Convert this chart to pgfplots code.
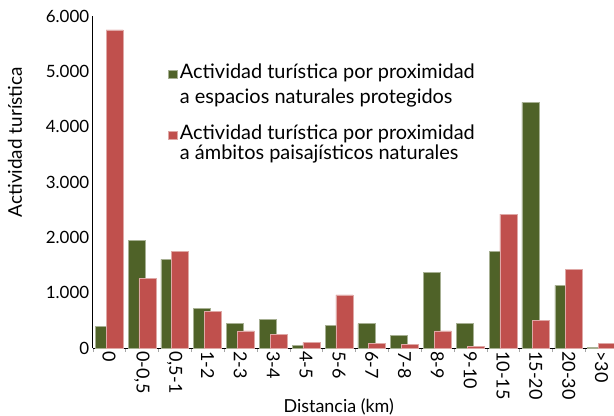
\documentclass[border=0pt]{standalone}
\usepackage{pgfplots}
\pgfplotsset{compat=1.18}
\usepackage{fontspec}
\setmainfont{Lato}
\definecolor{verde}{HTML}{4F6228}
\definecolor{rojo}{HTML}{C0504D}

\begin{document}
\begin{tikzpicture}
\path[use as bounding box] (-92.7bp,-68bp) rectangle (521.3bp,348bp);
\begin{axis}[
  at={(0,0)}, anchor=south west,
  scale only axis, width=521.3bp, height=332bp,
  xmin=-0.5, xmax=15.38, ymin=0, ymax=6000,
  axis lines*=left,
  xtick={0,...,15},
  xticklabels={0,{0-0,5},{0,5-1},1-2,2-3,3-4,4-5,5-6,6-7,7-8,8-9,9-10,10-15,15-20,20-30,>30},
  minor xtick={-0.5,0.5,...,14.5},
  ytick={0,1000,...,6000},
  /pgf/number format/assume math mode=true,
  /pgf/number format/1000 sep={.},
  major tick length=0pt, minor tick length=4bp, tick align=outside,
  minor tick style={gray!70},
  tick label style={font=\fontsize{17}{17}\selectfont},
  xticklabel style={rotate=-90, anchor=west, font=\fontsize{18}{18}\selectfont},
  ylabel={Actividad turística},
  ylabel style={at={(axis description cs:-0.149,0.62)}, anchor=center, font=\fontsize{19}{19}\selectfont},
  xlabel={Distancia (km)},
  xlabel style={at={(axis description cs:0.472,-0.178)}, anchor=center, font=\fontsize{18}{18}\selectfont},
  legend style={draw=none, fill=none, at={(axis description cs:0.139,0.87)}, anchor=north west,
    font=\fontsize{20}{20}\selectfont, row sep=15bp,
    cells={anchor=base west, align=left}},
]
\addplot[ybar, bar width=17bp, bar shift=-5.4bp, fill=verde, draw=verde!50!white, line width=0.6bp,
  legend image code/.code={\path[fill=verde] (0bp,26bp) rectangle (9bp,34bp);}]
  coordinates {(0,390) (1,1950) (2,1600) (3,710) (4,450) (5,510) (6,50) (7,410) (8,440) (9,230) (10,1370) (11,440) (12,1740) (13,4440) (14,1130) (15,10)};
\addlegendentry{Actividad turística por proximidad\\[6bp]a espacios naturales protegidos}
\addplot[ybar, bar width=17bp, bar shift=5.4bp, fill=rojo, draw=rojo!50!white, line width=0.6bp,
  legend image code/.code={\path[fill=rojo] (0bp,20bp) rectangle (9bp,28bp);}]
  coordinates {(0,5750) (1,1260) (2,1750) (3,660) (4,310) (5,240) (6,95) (7,960) (8,90) (9,65) (10,310) (11,25) (12,2420) (13,500) (14,1420) (15,90)};
\addlegendentry{Actividad turística por proximidad\\[0bp]a ámbitos paisajísticos naturales}
\end{axis}
\end{tikzpicture}
\end{document}
